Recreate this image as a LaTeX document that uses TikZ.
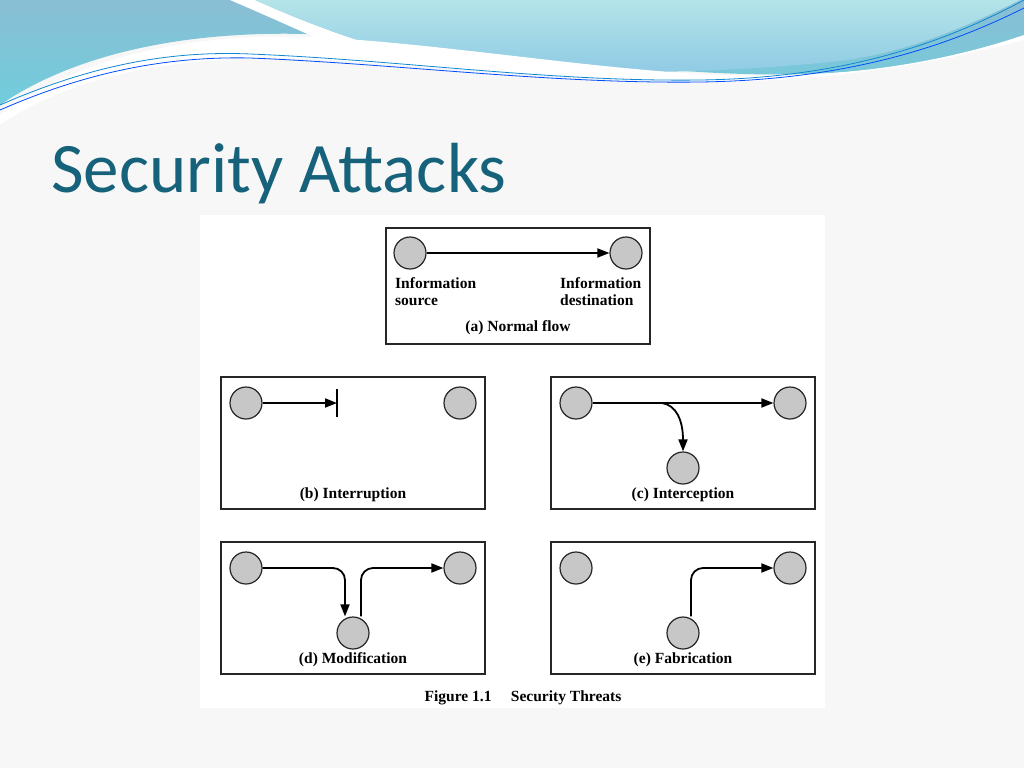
\documentclass[tikz,border=0pt]{standalone}
\usepackage{fontspec}
\setmainfont{Liberation Serif}
\newfontfamily\titlefont{Carlito}
\usetikzlibrary{arrows.meta}
\definecolor{ttl}{RGB}{22,98,122}
\definecolor{wv1}{RGB}{138,190,212}
\definecolor{wv2}{RGB}{112,205,220}
\definecolor{wv3}{RGB}{180,228,232}
\definecolor{wv4}{RGB}{140,200,228}
\begin{document}
\begin{tikzpicture}[x=1pt,y=-1pt,
  nd/.style={circle,draw=black!85,fill=black!22,line width=1.2pt,minimum size=32pt,inner sep=0pt},
  box/.style={draw=black!85,line width=1.2pt},
  fl/.style={line width=1.8pt,-{Triangle[length=12pt,width=9pt]}},
  lab/.style={font=\fontsize{15.5}{17}\selectfont\bfseries},
  rounded corners=12pt]
\useasboundingbox (0,0) rectangle (1024,768);
\fill[black!3,sharp corners] (0,0) rectangle (1024,768);
% waves
\begin{scope}[sharp corners]
\shade[top color=wv1,bottom color=wv2] (0,0) -- (1024,0) -- (1024,40) .. controls (900,75) and (800,78) .. (700,72) .. controls (600,66) and (450,45) .. (330,35) .. controls (200,28) and (80,50) .. (0,105) -- cycle;
\fill[white] (230,0) .. controls (300,30) and (340,50) .. (380,63) .. controls (400,66) and (420,66) .. (440,64) .. controls (380,50) and (310,25) .. (255,0) -- cycle;
\shade[top color=wv3,bottom color=wv4] (255,0) -- (1020,0) .. controls (960,30) and (900,55) .. (830,62) .. controls (650,80) and (500,70) .. (440,64) .. controls (380,50) and (310,25) .. (255,0) -- cycle;
\fill[white] (0,115) .. controls (80,55) and (200,30) .. (330,38) .. controls (450,45) and (600,70) .. (720,75) .. controls (850,80) and (950,60) .. (1024,35) -- (1024,768) -- (0,768) -- cycle;
\fill[black!3] (0,125) .. controls (80,70) and (200,52) .. (330,60) .. controls (450,68) and (600,82) .. (720,82) .. controls (850,80) and (950,60) .. (1024,40) -- (1024,768) -- (0,768) -- cycle;
\draw[cyan!70!blue,line width=0.8pt] (0,105) .. controls (80,70) and (160,50) .. (250,54) .. controls (400,60) and (550,82) .. (700,80) .. controls (850,78) and (950,40) .. (1024,0);
\draw[blue!70!cyan,line width=0.8pt] (0,110) .. controls (80,75) and (160,56) .. (250,58) .. controls (400,64) and (550,84) .. (700,82) .. controls (850,80) and (950,45) .. (1024,8);
\end{scope}
\node[anchor=base west,text=ttl,font=\titlefont\fontsize{71}{74}\selectfont,inner sep=0] (title) at (51,192) {Security Attacks};
\fill[white,sharp corners] (200,215) rectangle (825,708);
% (a)
\draw[box,sharp corners] (386,228) rectangle (650,344);
\node[nd] (a1) at (410,253) {}; \node[nd] (a2) at (626,253) {};
\draw[fl] (a1) -- (a2);
\node[lab,align=left,anchor=north west,inner sep=0] (as) at (395,277) {Information\\source};
\node[lab,align=left,anchor=north west,inner sep=0] (ad) at (560,277) {Information\\destination};
\node[lab] (al) at (518,328) {(a) Normal flow};
% (b)
\draw[box,sharp corners] (221,377) rectangle (485,509);
\node[nd] (b1) at (246,403) {}; \node[nd] (b2) at (460,403) {};
\coordinate (bx) at (337,403);
\draw[fl] (b1) -- (bx);
\draw[line width=1.8pt] (337,389) -- (337,417);
\node[lab] (bl) at (353,495) {(b) Interruption};
% (c)
\draw[box,sharp corners] (551,377) rectangle (815,509);
\node[nd] (c1) at (576,403) {}; \node[nd] (c2) at (790,403) {}; \node[nd] (c3) at (683,468) {};
\draw[fl] (c1) -- (c2);
\draw[fl] (662,403) .. controls (676,405) and (683,420) .. (c3.north);
\node[lab] (cl) at (683,495) {(c) Interception};
% (d)
\draw[box,sharp corners] (221,542) rectangle (485,674);
\node[nd] (d1) at (246,568) {}; \node[nd] (d2) at (460,568) {}; \node[nd] (d3) at (353,633) {};
\draw[fl] (d1) -- (345,568) -- ([xshift=-8pt]d3.north);
\draw[fl] ([xshift=8pt]d3.north) -- (361,568) -- (d2);
\node[lab] (dl) at (353,660) {(d) Modification};
% (e)
\draw[box,sharp corners] (551,542) rectangle (815,674);
\node[nd] (e1) at (576,568) {}; \node[nd] (e2) at (790,568) {}; \node[nd] (e3) at (683,633) {};
\draw[fl] ([xshift=8pt]e3.north) -- (691,568) -- (e2);
\node[lab] (el) at (683,660) {(e) Fabrication};
\node[lab] (cap) at (523,698) {Figure 1.1\quad\ Security Threats};
\end{tikzpicture}
\end{document}
